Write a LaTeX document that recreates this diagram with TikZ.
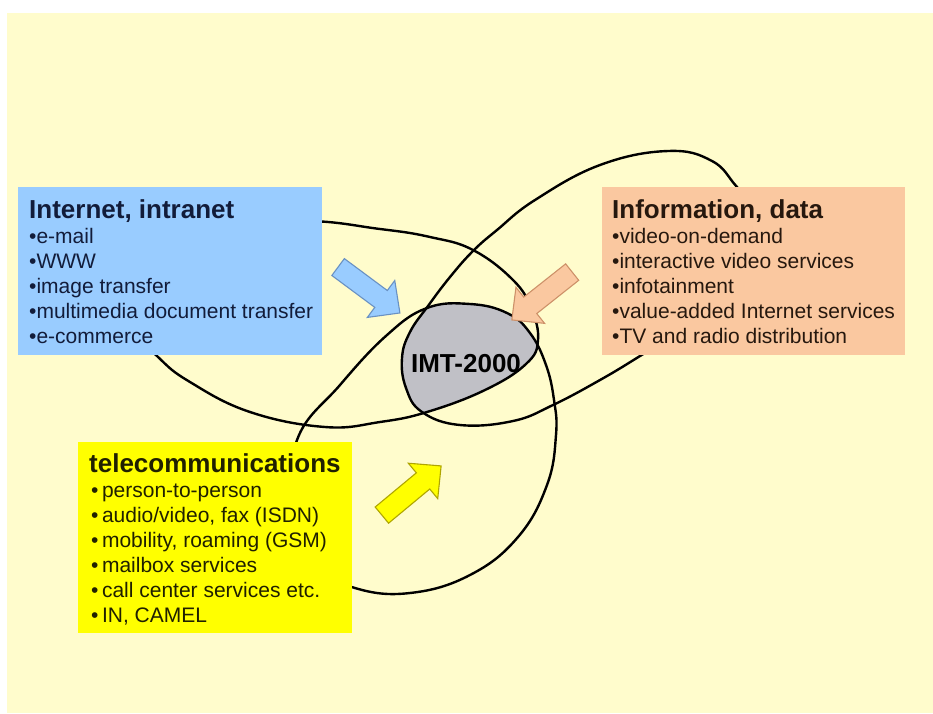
\documentclass[tikz,border=0pt]{standalone}
\usepackage{fontspec}
\setmainfont{Liberation Sans}

\definecolor{pagebg}{RGB}{255,252,204}
\definecolor{netblue}{RGB}{153,204,255}
\definecolor{netbluedark}{RGB}{105,145,195}
\definecolor{infopeach}{RGB}{250,200,160}
\definecolor{infopeachdark}{RGB}{205,145,105}
\definecolor{telyellow}{RGB}{255,255,0}
\definecolor{telyellowdark}{RGB}{175,165,0}
\definecolor{imtgray}{RGB}{192,192,198}
\definecolor{inkblue}{RGB}{18,28,58}
\definecolor{inkbrown}{RGB}{38,24,14}
\definecolor{inkolive}{RGB}{32,32,0}

\tikzset{
  venn/.style={line width=2.4pt, black},
  infobox/.style={rectangle, draw=none, inner sep=0pt, anchor=north west},
  boxtitle/.style={anchor=base west, inner sep=0pt, font=\fontsize{26}{30}\selectfont\bfseries},
  boxitem/.style={anchor=base west, inner sep=0pt, font=\fontsize{21}{25}\selectfont},
  % block arrow outline, tail at x=-38.5, tip at x=+38.5
  blockarrow/.style={line width=1.1pt, insert path={
    (-38.5,-10.5) -- (15,-10.5) -- (15,-23) -- (38.5,0) -- (15,23) -- (15,10.5)
    -- (-38.5,10.5) -- cycle}},
  % the three service areas as closed smooth outlines
  netpath/.style={insert path={plot[smooth cycle, tension=0.7] coordinates {
    (538,340) (526,364) (485,390) (427,412) (380,422) (325,427) (250,412)
    (190,382) (157,356) (120,315) (135,262) (200,231) (300,221) (380,229)
    (430,237) (473,250) (513,280) (531,308)}}},
  telpath/.style={insert path={plot[smooth cycle, tension=0.7] coordinates {
    (297,440) (340,385) (387,335) (427,308) (470,304) (507,313) (530,333)
    (546,365) (554,400) (556,435) (547,485) (518,537) (470,575) (410,593)
    (355,588) (315,565) (292,515)}}},
  infpath/.style={insert path={plot[smooth cycle, tension=0.7] coordinates {
    (737,187) (712,161) (668,151) (600,165) (535,200) (497,230) (473,251)
    (450,277) (428,306) (410,332) (402,358) (406,388) (422,412) (460,425)
    (513,421) (553,405) (600,380) (640,356) (700,318) (755,265) (762,215)}}},
}

\begin{document}
\begin{tikzpicture}[x=1pt, y=-1pt]
\useasboundingbox (0,0) rectangle (933,713);
\fill[white] (0,0) rectangle (933,713);
\fill[pagebg] (7,13) rectangle (933,713);

% common core of all three areas
\begin{scope}
  \path[clip, netpath];
  \path[clip, infpath];
  \path[fill=imtgray, telpath];
\end{scope}

% area outlines
\draw[venn, netpath];
\draw[venn, infpath];
\draw[venn, telpath];

% block arrows pointing at the core
\draw[fill=netblue, draw=netbluedark, shift={(369,290)}, rotate=-36.6, blockarrow];
\draw[fill=infopeach, draw=infopeachdark, shift={(542,296)}, rotate=-141.6, blockarrow];
\draw[fill=telyellow, draw=telyellowdark, shift={(411.5,490.5)}, rotate=39.7, blockarrow];

% Internet, intranet
\node[infobox, fill=netblue, minimum width=304pt, minimum height=168pt] (netbox) at (18,187) {};
\node[boxtitle, text=inkblue] (nettitle) at (29,218) {Internet, intranet};
\foreach \txt [count=\k from 0] in {e-mail, WWW, image transfer, multimedia document transfer, e-commerce}
  \node[boxitem, text=inkblue] (netitem\k) at (29,{243+25*\k}) {•\txt};

% Information, data
\node[infobox, fill=infopeach, minimum width=303pt, minimum height=168pt] (infbox) at (602,187) {};
\node[boxtitle, text=inkbrown] (inftitle) at (612,218) {Information, data};
\foreach \txt [count=\k from 0] in {video-on-demand, interactive video services, infotainment, value-added Internet services, TV and radio distribution}
  \node[boxitem, text=inkbrown] (infitem\k) at (612,{243+25*\k}) {•\txt};

% telecommunications
\node[infobox, fill=telyellow, minimum width=274pt, minimum height=191pt] (telbox) at (78,442) {};
\node[boxtitle, text=inkolive] (teltitle) at (89,472) {telecommunications};
\foreach \txt [count=\k from 0] in {person-to-person, {audio/video, fax (ISDN)}, {mobility, roaming (GSM)}, mailbox services, call center services etc., {IN, CAMEL}}
  \node[boxitem, text=inkolive] (telitem\k) at (91,{497+25*\k}) {•\,\txt};

% core label
\node[anchor=base, inner sep=0pt, font=\fontsize{26}{30}\selectfont\bfseries] (imt) at (466,372) {IMT-2000};
\end{tikzpicture}
\end{document}
